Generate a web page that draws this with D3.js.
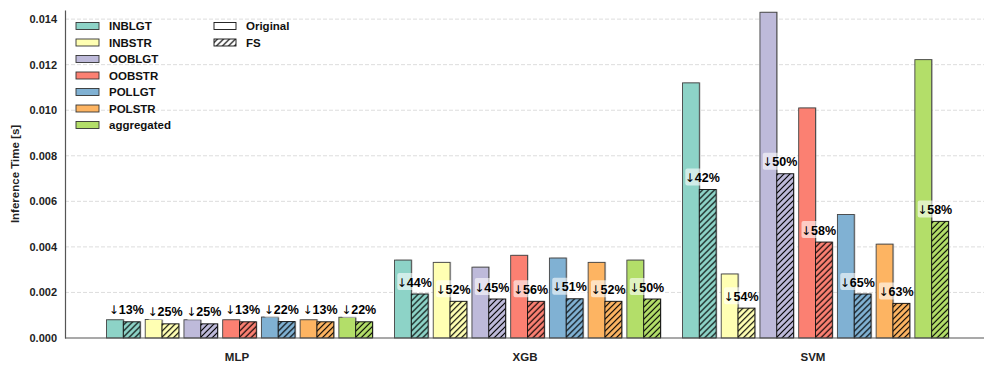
<!DOCTYPE html>
<meta charset="utf-8">
<script src="https://d3js.org/d3.v7.min.js"></script>
<style>
body { margin: 0; background: #fff; font-family: "Liberation Sans", Arial, sans-serif; }
text { font-family: "Liberation Sans", Arial, sans-serif; font-weight: bold; }
</style>
<svg id="chart" width="997" height="374"></svg>
<script>
// models on the x axis
const models = ["MLP", "XGB", "SVM"];
// datasets, one pair of bars each
const datasets = ["INBLGT", "INBSTR", "OOBLGT", "OOBSTR", "POLLGT", "POLSTR", "aggregated"];
const colors = ["#8dd3c7", "#ffffb3", "#bebada", "#fb8072", "#80b1d3", "#fdb462", "#b3de69"];

// inference time [s], original features (rows = models, cols = datasets)
const original = [
  [0.00080, 0.00081, 0.00080, 0.00080, 0.00092, 0.00080, 0.00091],
  [0.00342, 0.00332, 0.00311, 0.00363, 0.00351, 0.00332, 0.00342],
  [0.01120, 0.00281, 0.01430, 0.01010, 0.00542, 0.00412, 0.01222]
];
// inference time [s], feature selection
const fs = [
  [0.00071, 0.00062, 0.00062, 0.00071, 0.00072, 0.00071, 0.00071],
  [0.00193, 0.00161, 0.00171, 0.00161, 0.00172, 0.00161, 0.00171],
  [0.00652, 0.00131, 0.00721, 0.00421, 0.00193, 0.00152, 0.00512]
];
// reduction labels
const reductions = [
  ["13%", "25%", "25%", "13%", "22%", "13%", "22%"],
  ["44%", "52%", "45%", "56%", "51%", "52%", "50%"],
  ["42%", "54%", "50%", "58%", "65%", "63%", "58%"]
];
const yTicks = [0, 0.002, 0.004, 0.006, 0.008, 0.010, 0.012, 0.014];

const svg = d3.select("#chart");
const plot = {left: 65, right: 984, top: 10, bottom: 338};

const y = d3.scaleLinear().domain([0, 0.0144]).range([plot.bottom, plot.top]);
const x0 = d3.scaleBand().domain(models).range([93, 957]).paddingInner(0).paddingOuter(0);
const x1 = d3.scaleBand().domain(datasets).range([13.5, 274.5 + 5]).paddingInner(5 / 38).paddingOuter(0);

// hatch pattern
const defs = svg.append("defs");
defs.append("pattern")
  .attr("id", "hatch")
  .attr("patternUnits", "userSpaceOnUse")
  .attr("width", 6).attr("height", 6)
  .append("path")
  .attr("d", "M0,6 L6,0 M-1.5,1.5 L1.5,-1.5 M4.5,7.5 L7.5,4.5")
  .attr("stroke", "#000")
  .attr("stroke-width", 1.2);

// grid
svg.append("g")
  .selectAll("line")
  .data(yTicks.slice(1))
  .join("line")
  .attr("x1", plot.left).attr("x2", plot.right)
  .attr("y1", d => y(d)).attr("y2", d => y(d))
  .attr("stroke", "#ddd")
  .attr("stroke-dasharray", "4,2")
  .attr("stroke-width", 1);

// y axis
const yAxis = svg.append("g")
  .attr("transform", `translate(${plot.left},0)`)
  .call(d3.axisLeft(y).tickValues(yTicks).tickFormat(d3.format(".3f")).tickSize(0).tickPadding(8));
yAxis.select(".domain").attr("stroke", "#555").attr("stroke-width", 1.2);
yAxis.selectAll("text").attr("font-size", 11).attr("fill", "#222");

svg.append("text")
  .attr("transform", `translate(19,${(plot.top + plot.bottom) / 2}) rotate(-90)`)
  .attr("text-anchor", "middle")
  .attr("font-size", 11.5)
  .attr("fill", "#222")
  .text("Inference Time [s]");

// bars
const bw = x1.bandwidth() / 2;
models.forEach((m, mi) => {
  const g = svg.append("g").attr("transform", `translate(${x0(m)},0)`);
  const rows = datasets.map((d, di) => ({d, di, o: original[mi][di], f: fs[mi][di], r: reductions[mi][di]}));

  const pair = g.selectAll("g.pair").data(rows).join("g")
    .attr("class", "pair")
    .attr("transform", r => `translate(${x1(r.d)},0)`);

  // shadow
  pair.append("rect")
    .attr("x", 1.2).attr("y", r => y(r.o) - 0.5)
    .attr("width", bw).attr("height", r => y(0) - y(r.o) + 0.5)
    .attr("fill", "#999").attr("opacity", 0.6);
  pair.append("rect")
    .attr("x", bw + 1.2).attr("y", r => y(r.f) - 0.5)
    .attr("width", bw).attr("height", r => y(0) - y(r.f) + 0.5)
    .attr("fill", "#999").attr("opacity", 0.6);

  pair.append("rect")
    .attr("x", 0).attr("y", r => y(r.o))
    .attr("width", bw).attr("height", r => y(0) - y(r.o))
    .attr("fill", r => colors[r.di])
    .attr("stroke", "#444").attr("stroke-width", 0.9);
  pair.append("rect")
    .attr("x", bw).attr("y", r => y(r.f))
    .attr("width", bw).attr("height", r => y(0) - y(r.f))
    .attr("fill", r => colors[r.di]);
  pair.append("rect")
    .attr("x", bw).attr("y", r => y(r.f))
    .attr("width", bw).attr("height", r => y(0) - y(r.f))
    .attr("fill", "url(#hatch)")
    .attr("stroke", "#111").attr("stroke-width", 0.9);

  // reduction labels
  const lab = pair.append("g")
    .attr("transform", r => `translate(${bw + 3},${y(r.f) - 12})`);
  lab.append("rect")
    .attr("x", -17).attr("y", -9)
    .attr("width", 34).attr("height", 17)
    .attr("rx", 2)
    .attr("fill", "#fff").attr("opacity", 0.6);
  const t = lab.append("text")
    .attr("text-anchor", "middle")
    .attr("dy", "0.36em")
    .attr("font-size", 12.5)
    .attr("fill", "#000");
  t.append("tspan")
    .attr("font-family", "DejaVu Sans")
    .attr("font-weight", "normal")
    .attr("font-size", 12)
    .text("\u2193");
  t.append("tspan").text(r => r.r);
});

// x axis
const xAxis = svg.append("g")
  .attr("transform", `translate(0,${plot.bottom})`);
xAxis.append("line")
  .attr("x1", plot.left).attr("x2", plot.right)
  .attr("stroke", "#555").attr("stroke-width", 1.2);
xAxis.selectAll("text")
  .data(models)
  .join("text")
  .attr("x", d => x0(d) + x0.bandwidth() / 2)
  .attr("y", 23)
  .attr("text-anchor", "middle")
  .attr("font-size", 11.5)
  .attr("fill", "#222")
  .text(d => d);

// legend
const legend = svg.append("g");
const rowH = 16.5;
const le = legend.selectAll("g.ds").data(datasets).join("g")
  .attr("transform", (d, i) => `translate(76,${26 + i * rowH})`);
le.append("rect")
  .attr("x", 0).attr("y", -3.5).attr("width", 23).attr("height", 7)
  .attr("fill", (d, i) => colors[i])
  .attr("stroke", "#333").attr("stroke-width", 0.9);
le.append("text")
  .attr("x", 33).attr("dy", "0.35em")
  .attr("font-size", 11.5).attr("fill", "#111")
  .text(d => d);

const kinds = ["Original", "FS"];
const lk = legend.selectAll("g.kind").data(kinds).join("g")
  .attr("transform", (d, i) => `translate(214,${26 + i * rowH})`);
lk.append("rect")
  .attr("x", 0).attr("y", -3.5).attr("width", 22).attr("height", 7)
  .attr("fill", d => d === "FS" ? "url(#hatch)" : "#fff")
  .attr("stroke", "#111").attr("stroke-width", 0.9);
lk.append("text")
  .attr("x", 32).attr("dy", "0.35em")
  .attr("font-size", 11.5).attr("fill", "#111")
  .text(d => d);
</script>
